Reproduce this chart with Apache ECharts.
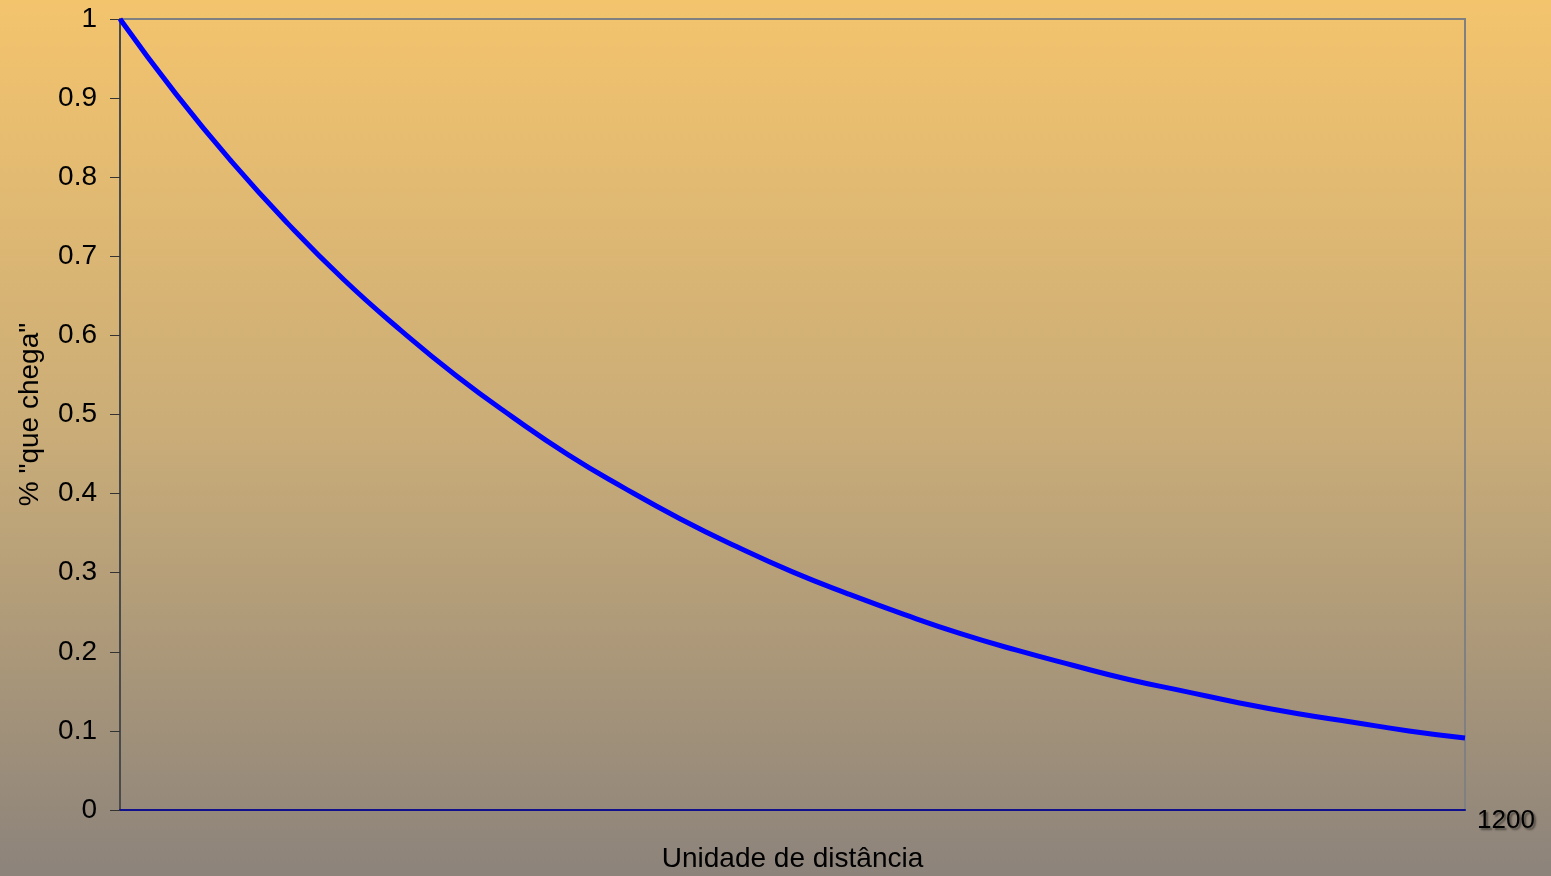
<!DOCTYPE html>
<html>
<head>
<meta charset="utf-8">
<script src="https://cdn.jsdelivr.net/npm/echarts@6/dist/echarts.min.js"></script>
<style>
  html, body { margin: 0; padding: 0; }
  #chart { width: 1551px; height: 876px; }
</style>
</head>
<body>
<div id="chart"></div>
<script>
  // distance (x) and share that arrives (y)
  const distance = [0, 50, 100, 150, 200, 250, 300, 350, 400, 450, 500, 550, 600,
    650, 700, 750, 800, 850, 900, 950, 1000, 1050, 1100, 1150, 1200];
  const share = [1.00, 0.905, 0.819, 0.741, 0.670, 0.607, 0.549, 0.497, 0.449, 0.407,
    0.368, 0.333, 0.301, 0.273, 0.247, 0.223, 0.202, 0.183, 0.165, 0.150, 0.135,
    0.122, 0.111, 0.100, 0.091];
  const yTicks = [0, 0.1, 0.2, 0.3, 0.4, 0.5, 0.6, 0.7, 0.8, 0.9, 1];

  const font = 'Liberation Sans, Arial, sans-serif';
  const chart = echarts.init(document.getElementById('chart'));

  chart.setOption({
    backgroundColor: new echarts.graphic.LinearGradient(0, 0, 0, 1, [
      { offset: 0, color: '#f4c46d' },
      { offset: 0.5, color: '#c9ac78' },
      { offset: 1, color: '#8c837b' }
    ]),
    animation: false,
    grid: {
      left: 120,
      right: 86,
      top: 19,
      bottom: 66,
      containLabel: false,
      outerBoundsMode: 'none',
      show: true,
      borderColor: '#808080',
      borderWidth: 2,
      backgroundColor: 'transparent'
    },
    xAxis: {
      type: 'value',
      min: 0,
      max: 1200,
      interval: 1200,
      name: 'Unidade de distância',
      nameLocation: 'middle',
      nameGap: 35,
      nameTextStyle: { fontFamily: font, fontSize: 28, color: '#000' },
      axisLine: { lineStyle: { color: '#10108c', width: 2 } },
      axisTick: { show: false },
      splitLine: { show: false },
      axisLabel: {
        formatter: v => (v === 1200 ? '1200' : ''),
        fontFamily: font,
        fontSize: 26,
        color: '#000',
        align: 'left',
        verticalAlign: 'middle',
        margin: 11,
        padding: [0, 0, 0, 12],
        textShadowColor: 'rgba(0,0,0,0.45)',
        textShadowOffsetX: 2,
        textShadowOffsetY: 2,
        textShadowBlur: 2
      }
    },
    yAxis: {
      type: 'value',
      min: 0,
      max: 1,
      interval: 0.1,
      name: '% "que chega"',
      nameLocation: 'middle',
      nameGap: 76,
      nameRotate: 90,
      nameTextStyle: { fontFamily: font, fontSize: 28, color: '#000' },
      axisLine: { show: true, lineStyle: { color: '#4a4a4a', width: 2 } },
      axisTick: { show: true, inside: false, length: 10, lineStyle: { color: '#333', width: 1 } },
      splitLine: { show: false },
      axisLabel: {
        formatter: v => {
          const t = yTicks.find(k => Math.abs(k - v) < 1e-9);
          return t === undefined ? '' : String(t);
        },
        fontFamily: font,
        fontSize: 28,
        color: '#000',
        margin: 23
      }
    },
    series: [{
      type: 'line',
      smooth: true,
      showSymbol: false,
      data: distance.map((d, i) => [d, share[i]]),
      lineStyle: { color: '#0000ff', width: 5 }
    }]
  });
</script>
</body>
</html>
